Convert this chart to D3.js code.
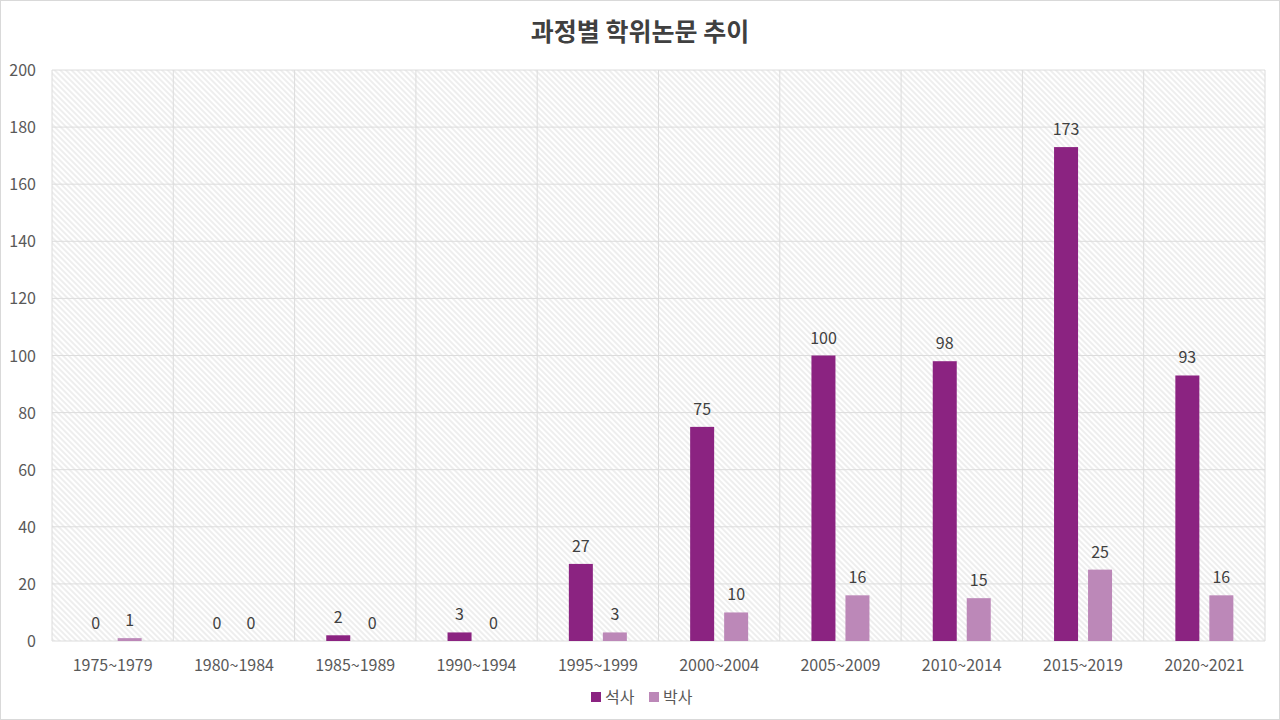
<!DOCTYPE html>
<html>
<head>
<meta charset="utf-8">
<script src="https://cdn.jsdelivr.net/npm/d3@7"></script>
<style>
  html, body { margin: 0; padding: 0; background: #fff; }
  svg { display: block; font-family: "Noto Sans CJK KR", "Noto Sans", sans-serif; }
</style>
</head>
<body>
<svg id="chart" width="1280" height="720"></svg>
<script>
const categories = ['1975~1979', '1980~1984', '1985~1989', '1990~1994', '1995~1999',
  '2000~2004', '2005~2009', '2010~2014', '2015~2019', '2020~2021'];
const seriesNames = ['석사', '박사'];
const masters = [0, 0, 2, 3, 27, 75, 100, 98, 173, 93];
const doctors = [1, 0, 0, 0, 3, 10, 16, 15, 25, 16];
const yTicks = [0, 20, 40, 60, 80, 100, 120, 140, 160, 180, 200];
const colors = ['#8b2381', '#bc88b8'];

const width = 1280, height = 720;
const margin = { top: 70, right: 15, bottom: 79, left: 52 };
const svg = d3.select('#chart');

// outer frame
svg.append('rect')
  .attr('x', 0.5).attr('y', 0.5)
  .attr('width', width - 1).attr('height', height - 1)
  .attr('fill', '#fff').attr('stroke', '#d9d9d9');

// hatch pattern for plot background
const pat = svg.append('defs').append('pattern')
  .attr('id', 'hatch')
  .attr('patternUnits', 'userSpaceOnUse')
  .attr('width', 4).attr('height', 4)
  .attr('patternTransform', 'rotate(-45)');
pat.append('line')
  .attr('x1', 1).attr('y1', 0).attr('x2', 1).attr('y2', 4)
  .attr('stroke', '#e3e3e3').attr('stroke-width', 1.2);

const x = d3.scaleBand()
  .domain(categories)
  .range([margin.left, width - margin.right]);
const y = d3.scaleLinear()
  .domain([0, 200])
  .range([height - margin.bottom, margin.top]);

svg.append('rect')
  .attr('x', margin.left).attr('y', margin.top)
  .attr('width', width - margin.left - margin.right)
  .attr('height', height - margin.top - margin.bottom)
  .attr('fill', 'url(#hatch)');

// horizontal gridlines
svg.append('g')
  .selectAll('line')
  .data(yTicks)
  .join('line')
  .attr('x1', margin.left).attr('x2', width - margin.right)
  .attr('y1', d => y(d)).attr('y2', d => y(d))
  .attr('stroke', '#dcdcdc').attr('stroke-width', 1);

// vertical gridlines at category edges
const edges = categories.map(c => x(c)).concat([width - margin.right]);
svg.append('g')
  .selectAll('line')
  .data(edges)
  .join('line')
  .attr('x1', d => d).attr('x2', d => d)
  .attr('y1', margin.top).attr('y2', height - margin.bottom)
  .attr('stroke', '#dcdcdc').attr('stroke-width', 1);

// y axis labels
svg.append('g')
  .selectAll('text')
  .data(yTicks)
  .join('text')
  .attr('x', 36)
  .attr('y', d => y(d) + 6)
  .attr('text-anchor', 'end')
  .attr('font-size', 16)
  .attr('fill', '#595959')
  .text(d => d);

// x axis labels
svg.append('g')
  .selectAll('text')
  .data(categories)
  .join('text')
  .attr('x', d => x(d) + x.bandwidth() / 2)
  .attr('y', height - margin.bottom + 30)
  .attr('text-anchor', 'middle')
  .attr('font-size', 16)
  .attr('fill', '#595959')
  .text(d => d);

const barW = 24, offset = 17;
const series = [masters, doctors];
series.forEach((vals, i) => {
  const dx = i === 0 ? -offset : offset;
  const g = svg.append('g');
  g.selectAll('rect')
    .data(vals)
    .join('rect')
    .attr('x', (d, j) => x(categories[j]) + x.bandwidth() / 2 + dx - barW / 2)
    .attr('y', d => y(d))
    .attr('width', barW)
    .attr('height', d => y(0) - y(d))
    .attr('fill', colors[i]);
  g.selectAll('text')
    .data(vals)
    .join('text')
    .attr('x', (d, j) => x(categories[j]) + x.bandwidth() / 2 + dx)
    .attr('y', d => y(d) - 12)
    .attr('text-anchor', 'middle')
    .attr('font-size', 16)
    .attr('fill', '#404040')
    .text(d => d);
});

// title
svg.append('text')
  .attr('x', width / 2)
  .attr('y', 41)
  .attr('text-anchor', 'middle')
  .attr('font-size', 25)
  .attr('font-weight', 'bold')
  .attr('fill', '#404040')
  .text('과정별 학위논문 추이');

// legend
const legend = svg.append('g').attr('transform', 'translate(591,703)');
seriesNames.forEach((name, i) => {
  const lx = i * 58;
  legend.append('rect')
    .attr('x', lx).attr('y', -11)
    .attr('width', 10).attr('height', 10)
    .attr('fill', colors[i]);
  legend.append('text')
    .attr('x', lx + 14).attr('y', 0)
    .attr('font-size', 16)
    .attr('fill', '#595959')
    .text(name);
});
</script>
</body>
</html>
